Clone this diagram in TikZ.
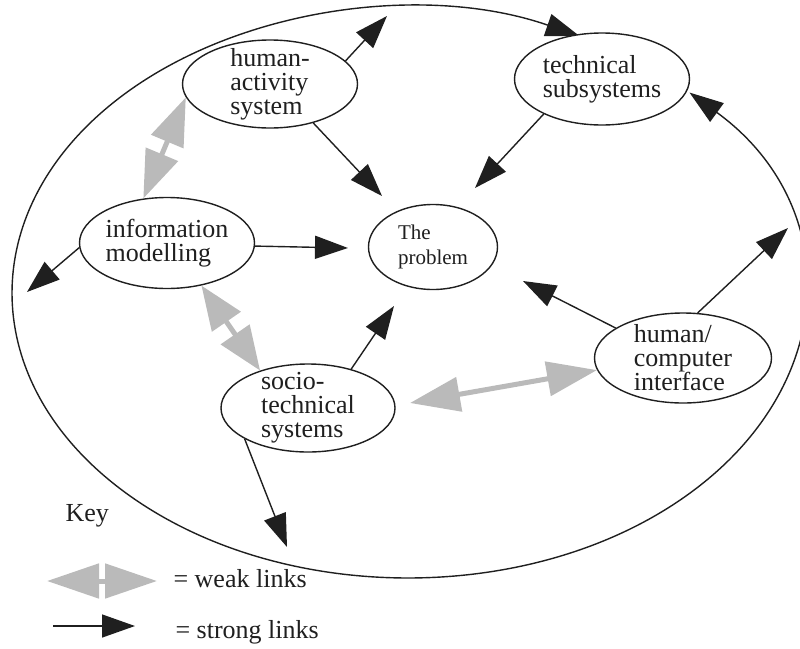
\documentclass[tikz,border=0pt]{standalone}
\usepackage{fontspec}
\setmainfont{Liberation Serif}
\newfontfamily\labelfont{Liberation Serif}
\usetikzlibrary{shapes.geometric,arrows.meta}
\definecolor{ink}{gray}{0.12}
\definecolor{weakgray}{gray}{0.73}
\begin{document}
\begin{tikzpicture}[x=1pt,y=-1pt,
  every node/.style={font=\labelfont\fontsize{26}{24}\selectfont, text=ink},
  blob/.style={draw=ink, ellipse, fill=white, line width=1.4pt,
    inner sep=-15pt, align=left},
  strong/.style={draw=ink, line width=1.4pt,
    -{Triangle[length=33pt,width=23pt]}},
  weak/.style={draw=weakgray, line width=5pt,
    {Triangle[length=#1,width=34pt]}-{Triangle[length=#1,width=34pt]}},
  weak/.default=48pt]
\useasboundingbox (0,0) rectangle (800,648);

% outer loop, both ends arriving at the technical subsystems
\draw[ink, line width=1.4pt,
  {Triangle[length=34pt,width=23pt]}-{Triangle[length=34pt,width=23pt]}]
  ([shift={(-44.7:396 and 285)}]408,293)
  arc[start angle=-44.7, end angle=295.7, x radius=396, y radius=285];

% viewpoints
\node[blob, minimum width=175pt, minimum height=88pt] (has) at (270,84)
  {human-\\activity\\system};
\node[blob, minimum width=175pt, minimum height=92pt] (tech) at (602,79)
  {technical\\subsystems};
\node[blob, minimum width=175pt, minimum height=91pt] (info) at (167,243)
  {information\\modelling};
\node[blob, minimum width=129pt, minimum height=85pt,
  font=\labelfont\fontsize{21}{25}\selectfont] (prob) at (433,247)
  {The\\problem};
\node[blob, minimum width=174pt, minimum height=88pt] (socio) at (308,408)
  {socio-\\technical\\systems};
\node[blob, minimum width=177pt, minimum height=90pt] (hci) at (683,358)
  {human/\\computer\\interface};

% free ends of the strong links
\coordinate (t1) at (387,16);
\coordinate (t2) at (382,196);
\coordinate (t3) at (475,188);
\coordinate (t4) at (27,292);
\coordinate (t5) at (348,248);
\coordinate (t6) at (394,306);
\coordinate (t7) at (523,281);
\coordinate (t8) at (788,228);
\coordinate (t9) at (287,547);

% strong links
\draw[strong] (has.17) -- (t1);
\draw[strong] (has.-42) -- (t2);
\draw[strong] (tech.-149) -- (t3);
\draw[strong] (info.183) -- (t4);
\draw[strong] (info.-2) -- (t5);
\draw[strong] (socio.42) -- (t6);
\draw[strong] (socio.-154) -- (t9);
\draw[strong] (hci.156) -- (t7);
\draw[strong] (hci.72) -- (t8);

% weak links
\draw[weak] (info.118) -- (has.189);
\draw[weak=44pt] (info.-51) -- (socio.142);
\coordinate (w1) at (410,403);
\draw[weak=50pt] (w1) -- (hci.188);

% key
\node[anchor=base west] (key) at (62,521) {Key};
\coordinate (kw1) at (47,581);
\coordinate (kw2) at (157,581);
\draw[weak=52pt] (kw1) -- (kw2);
\node[anchor=base west] (kwtext) at (170,587) {= weak links};
\coordinate (ks1) at (53,626);
\coordinate (ks2) at (135,626);
\draw[strong] (ks1) -- (ks2);
\node[anchor=base west] (kstext) at (172,638) {= strong links};
\end{tikzpicture}
\end{document}
